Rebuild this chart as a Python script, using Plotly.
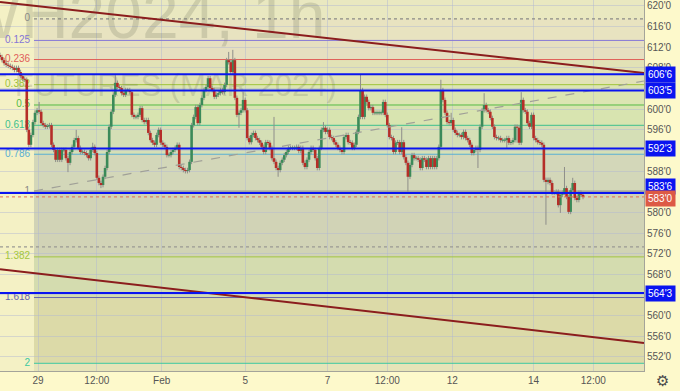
import plotly.graph_objects as go

# ---------------- data ----------------
closes = [
    610.1, 609.5, 608.9, 608.6, 608.4, 608.2, 608.0, 607.6, 608.0, 607.2,
    606.4, 605.9, 605.7, 596.0, 593.1, 595.0, 597.5, 599.3, 599.8, 599.5,
    597.3, 596.9, 596.6, 596.7, 596.9, 593.1, 592.1, 590.2, 592.1, 590.2,
    592.1, 592.1, 590.5, 589.6, 591.7, 592.7, 594.0, 594.4, 592.5, 591.7,
    591.7, 591.5, 591.1, 590.5, 592.1, 592.7, 591.5, 586.7, 585.7, 585.3,
    586.9, 588.6, 591.7, 596.6, 599.5, 602.8, 605.1, 604.3, 604.1, 603.1,
    602.8, 603.7, 603.7, 603.3, 598.9, 598.5, 598.5, 598.9, 600.2, 597.9,
    597.5, 597.9, 595.4, 594.0, 593.5, 593.1, 595.0, 596.0, 593.5, 593.1,
    592.7, 591.1, 591.1, 591.7, 592.1, 592.5, 593.1, 588.8, 588.6, 588.2,
    588.0, 588.2, 589.8, 596.9, 598.5, 600.4, 597.3, 600.8, 602.2, 603.7,
    604.3, 606.0, 604.1, 603.7, 602.4, 602.8, 603.1, 603.7, 603.3, 604.7,
    609.5, 609.1, 607.2, 609.5, 602.2, 598.9, 599.3, 599.8, 601.8, 599.8,
    594.4, 593.6, 595.0, 595.4, 594.4, 594.0, 593.5, 592.7, 591.7, 593.6,
    593.5, 592.5, 590.5, 589.8, 588.6, 588.2, 589.6, 590.2, 591.1, 591.7,
    592.5, 592.5, 592.5, 592.5, 592.7, 591.9, 592.5, 589.6, 588.8, 590.2,
    591.7, 592.5, 592.1, 590.5, 588.6, 592.5, 596.0, 596.4, 595.6, 596.0,
    594.6, 594.4, 593.6, 593.1, 592.5, 592.1, 591.7, 594.6, 595.0, 593.6,
    593.5, 592.5, 593.1, 595.6, 598.5, 603.7, 598.5, 602.4, 601.4, 600.2,
    600.4, 599.3, 599.3, 599.3, 599.3, 599.3, 601.4, 598.9, 596.9, 594.6,
    594.4, 591.7, 593.5, 593.6, 591.7, 593.6, 590.7, 589.6, 586.9, 589.2,
    591.1, 590.5, 590.5, 590.2, 588.6, 590.5, 590.2, 588.8, 590.5, 588.8,
    590.5, 588.8, 590.5, 592.7, 603.7, 601.8, 599.3, 597.5, 597.3, 597.9,
    596.0, 595.4, 595.0, 595.0, 594.6, 595.6, 594.4, 594.0, 593.1, 591.5,
    592.1, 592.5, 592.1, 596.6, 599.8, 600.8, 599.8, 599.5, 598.3, 596.6,
    594.6, 594.4, 594.4, 594.0, 594.0, 594.0, 594.4, 593.5, 593.6, 594.0,
    596.6, 596.4, 593.5, 601.8, 599.8, 599.5, 597.3, 596.6, 598.9, 594.4,
    594.0, 593.6, 593.5, 593.1, 586.3, 585.9, 586.3, 585.7, 583.8, 583.8,
    584.0, 581.4, 583.4, 583.8, 584.7, 583.0, 580.1, 584.3, 585.7, 582.8,
    582.4, 583.8, 583.4, 583.0,
]
first_open = 610.5
# notable wick extremes (bar index -> price)
high_marks = {19: 601.4, 37: 596.0, 45: 593.5, 56: 606.6, 111: 611.1, 113: 611.5,
              118: 603.3, 133: 598.5, 157: 597.5, 175: 606.8, 195: 596.5, 214: 605.7,
              219: 599.3, 235: 603.1, 253: 603.3, 274: 588.8, 278: 586.7}
low_marks = {33: 587.8, 49: 584.7, 116: 596.4, 135: 586.9, 198: 584.0, 232: 588.6,
             246: 592.5, 251: 593.5, 265: 577.6, 272: 579.9, 276: 579.7}
wick_pad = 0.45

x_tick_pos = [18.5, 47, 78.5, 119, 159, 188, 219.5, 259, 288]
x_tick_text = ["29", "12:00", "Feb", "5", "7", "12:00", "12", "14", "12:00"]

y_ticks = list(range(552, 621, 4))
y_tick_text = [f"{v}'0" for v in y_ticks]

fib_high = 617.5
fib_low = 584.125
fib_start = 16.5
fib_levels = [0, 0.125, 0.236, 0.382, 0.5, 0.618, 0.786, 1, 1.382, 1.618, 2]
fib_labels = ["0", "0.125", "0.236", "0.382", "0.5", "0.618", "0.786", "1", "1.382", "1.618", "2"]
fib_colors = ["#8a8a86", "#8576d6", "#e0605a", "#9fc43a", "#55bb44", "#3cbf8c",
              "#58aed2", "#8a8a86", "#a3c640", "#6666aa", "#3cc8a0"]
fib_fills = ["#e8e3c0", "#e6dfc0", "#e2e2b6", "#dce5b2", "#d8e4b0", "#d5dfb6",
             "#d3d7b9", "#d1d3b6", "#d4dcaf", "#dcdaa8"]

blue_levels = [606.75, 603.625, 592.375, 583.75, 564.375]
blue_texts = ["606'6", "603'5", "592'3", "583'6", "564'3"]
blue_label_shift = [0, 0, 0, 7, 0]
last_price = 583.0
last_text = "583'0"
dotted_level = 573.3

x_max = 312.6
y_min, y_max = 549.26, 621.16
upper_trend = [(0, 620.77), (x_max, 607.0)]
lower_trend = [(0, 569.0), (x_max, 554.7)]
dashed_trend = [(fib_start, 584.14), (x_max, 605.46)]

# ---------------- build ----------------
n = len(closes)
opens = [first_open] + closes[:-1]
highs = [high_marks.get(i, max(opens[i], closes[i]) + wick_pad) for i in range(n)]
lows = [low_marks.get(i, min(opens[i], closes[i]) - wick_pad) for i in range(n)]

fig = go.Figure()

# watermark (under everything)
fig.add_trace(go.Scatter(
    x=[158, 163.5], y=[617.0, 604.1], mode="text",
    text=["ZWH2024, 1h", "WHEAT FUTURES (MAR 2024)"],
    textposition="middle left",
    textfont=dict(size=[66, 31], color="rgba(95,100,80,0.2)", family="Liberation Sans"),
    hoverinfo="skip", showlegend=False))

# fib labels
fib_prices = [fib_high - l * (fib_high - fib_low) for l in fib_levels]
fig.add_trace(go.Scatter(
    x=[14.6] * len(fib_levels), y=fib_prices, mode="text", text=fib_labels,
    textposition="middle left",
    textfont=dict(size=10, color=fib_colors, family="Liberation Sans"),
    hoverinfo="skip", showlegend=False))

# wicks
wx, wy = [], []
for i in range(n):
    wx += [i, i, None]
    wy += [lows[i], highs[i], None]
fig.add_trace(go.Scatter(x=wx, y=wy, mode="lines", line=dict(color="#8e8e8a", width=1),
                         hoverinfo="skip", showlegend=False))

# bodies (drawn as thick vertical segments)
ux, uy, dx, dy = [], [], [], []
for i in range(n):
    o, c = opens[i], closes[i]
    lo, hi = min(o, c), max(o, c)
    if hi - lo < 0.2:
        mid = (hi + lo) / 2
        lo, hi = mid - 0.1, mid + 0.1
    if c >= o:
        ux += [i, i, None]; uy += [lo, hi, None]
    else:
        dx += [i, i, None]; dy += [lo, hi, None]
fig.add_trace(go.Scatter(x=ux, y=uy, mode="lines", line=dict(color="#3b8a59", width=2.6),
                         hoverinfo="skip", showlegend=False))
fig.add_trace(go.Scatter(x=dx, y=dy, mode="lines", line=dict(color="#b52e28", width=2.6),
                         hoverinfo="skip", showlegend=False))

shapes = []
# fib fills
for k in range(len(fib_levels) - 1):
    shapes.append(dict(type="rect", xref="x", yref="y", x0=fib_start, x1=x_max,
                       y0=fib_prices[k + 1], y1=fib_prices[k], fillcolor=fib_fills[k],
                       line=dict(width=0), layer="below"))
shapes.append(dict(type="rect", xref="x", yref="y", x0=fib_start, x1=x_max,
                   y0=fib_prices[0], y1=y_max, fillcolor="#e9e8c0", line=dict(width=0), layer="below"))
shapes.append(dict(type="rect", xref="x", yref="y", x0=fib_start, x1=x_max,
                   y0=y_min, y1=fib_prices[-1], fillcolor="#e6e4b8", line=dict(width=0), layer="below"))
# fib lines
for k, p in enumerate(fib_prices):
    dash = "dot" if fib_levels[k] == 0 else "solid"
    shapes.append(dict(type="line", xref="x", yref="y", x0=fib_start, x1=x_max, y0=p, y1=p,
                       line=dict(color=fib_colors[k], width=1.2 if dash == "dot" else 1, dash=dash),
                       layer="between"))
# dotted gray level
shapes.append(dict(type="line", xref="x", yref="y", x0=0, x1=x_max, y0=dotted_level, y1=dotted_level,
                   line=dict(color="#9a9a94", width=1.2, dash="dot"), layer="between"))
# trend lines
for (a, b), col, w, dash in [(upper_trend, "#8b1d1d", 2, "solid"), (lower_trend, "#8b1d1d", 2, "solid"),
                             (dashed_trend, "#a0a098", 1.2, "dash")]:
    shapes.append(dict(type="line", xref="x", yref="y", x0=a[0], y0=a[1], x1=b[0], y1=b[1],
                       line=dict(color=col, width=w, dash=dash), layer="above"))
# current price line
shapes.append(dict(type="line", xref="x", yref="y", x0=0, x1=x_max, y0=last_price, y1=last_price,
                   line=dict(color="#e06a55", width=1, dash="dot"), layer="above"))
# blue horizontal levels
for p in blue_levels:
    shapes.append(dict(type="line", xref="x", yref="y", x0=0, x1=x_max, y0=p, y1=p,
                       line=dict(color="#0a14f0", width=2), layer="above"))

annotations = []
for p, t, s in zip(blue_levels, blue_texts, blue_label_shift):
    annotations.append(dict(xref="paper", yref="y", x=1, y=p, xanchor="left", xshift=1, yshift=s,
                            text=t, showarrow=False, bgcolor="#0a14f0", borderpad=2,
                            font=dict(color="white", size=10, family="Liberation Sans")))
annotations.append(dict(xref="paper", yref="y", x=1, y=last_price, xanchor="left", xshift=1, yshift=-2,
                        text=last_text, showarrow=False, bgcolor="#dd5a45", borderpad=2,
                        font=dict(color="white", size=10, family="Liberation Sans")))
annotations.append(dict(xref="paper", yref="paper", x=1.0295, y=-0.027, xanchor="center", yanchor="middle",
                        text="⚙", showarrow=False, font=dict(color="#4a4a4a", size=15, family="DejaVu Sans")))

fig.update_layout(
    width=680, height=391,
    margin=dict(l=0, r=36, t=0, b=20),
    paper_bgcolor="#fdf9cb",
    plot_bgcolor="#f4f1c5",
    showlegend=False,
    shapes=shapes,
    annotations=annotations,
    font=dict(family="Liberation Sans", size=10, color="#555555"),
    xaxis=dict(range=[0, x_max], tickvals=x_tick_pos, ticktext=x_tick_text,
               showgrid=True, gridcolor="rgba(175,182,210,0.45)", gridwidth=1,
               zeroline=False, showline=True, linecolor="#a4a49a", linewidth=1,
               ticks="", tickfont=dict(size=10, color="#555555")),
    yaxis=dict(range=[y_min, y_max], side="right", tickvals=y_ticks, ticktext=y_tick_text,
               showgrid=True, gridcolor="rgba(175,182,210,0.45)", gridwidth=1,
               zeroline=False, showline=True, linecolor="#a4a49a", linewidth=1,
               ticks="", tickfont=dict(size=10, color="#555555")),
)

fig.write_html("out.html")
